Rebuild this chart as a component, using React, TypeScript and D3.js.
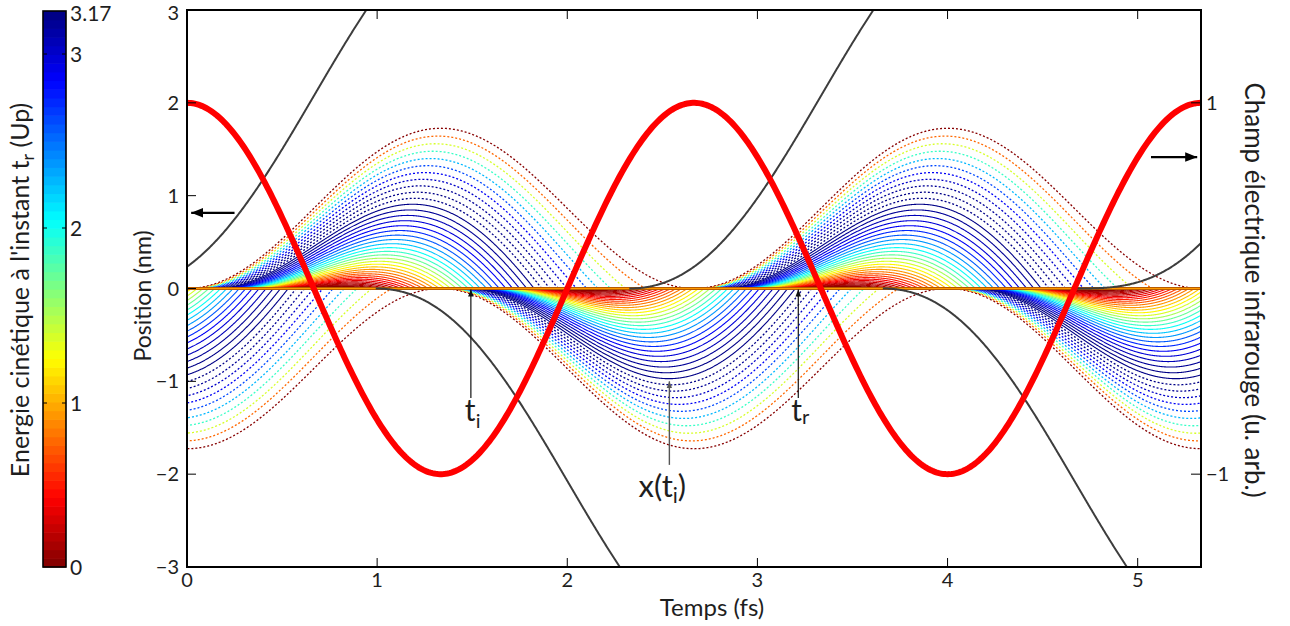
import React, { useMemo } from 'react';
import * as d3 from 'd3';

// ---------------- data ----------------
const timeDomainFs = [0, 5.333];
const positionDomainNm = [-3, 3];
const fieldDomain = [-1.5, 1.5];
const timeTicks = [0, 1, 2, 3, 4, 5];
const positionTicks = [-3, -2, -1, 0, 1, 2, 3];
const fieldTicks = [-1, 1];
const fieldTickLabels = ['−1', '1'];
const energyTicks = [0, 1, 2, 3, 3.17];
const energyTickLabels = ['0', '1', '2', '3', '3.17'];
const laserPeriodFs = 2.667;
const quiverAmplitudeNm = 0.863;
const energyMaxUp = 3.17;
const fieldAmplitude = 1;
// ionization phases (deg after the field maximum) of the drawn trajectories
const ionizationPhasesDeg = [
  0, 1.8, 3.6, 5.4, 7.2, 9, 10.8, 12.6, 14.4, 16.2, 18,
  19.8, 21.6, 23.4, 25.2, 27, 28.8, 30.6, 32.4, 34.2, 36, 37.8, 39.6, 41.4, 43.2,
  45, 46.8, 48.6, 50.4, 52.2, 54, 55.8, 57.6, 59.4, 61.2, 63, 64.8, 66.6, 68.4,
  70.2, 72, 73.8, 75.6, 77.4, 79.2, 81, 82.8, 84.6, 86.4, 88.2,
];
const halfCycleStartsDeg = [-180, 0, 180, 360, 540];
// number of dotted (long) trajectories in each half cycle
const dottedCountByHalfCycle = [10, 11, 10, 11, 10];
// ionization phases (deg) of the non-returning (grey) trajectories
const driftIonizationDeg = [-46, 134, 314, 494, 630];

// ---------------- helpers ----------------
const omega = (2 * Math.PI) / laserPeriodFs;

function jet(v: number) {
  const c = (q: number) => Math.max(0, Math.min(1, q));
  const r = c(1.5 - Math.abs(4 * v - 3));
  const g = c(1.5 - Math.abs(4 * v - 2));
  const b = c(1.5 - Math.abs(4 * v - 1));
  return d3.rgb(r * 255, g * 255, b * 255).formatHex();
}
const levelColor = (i: number) => jet(1 - (i + 0.5) / 64);
const energyColor = (e: number) =>
  levelColor(Math.max(0, Math.min(63, Math.floor((e / energyMaxUp) * 64))));

function returning(phiDeg: number) {
  const p0 = (phiDeg * Math.PI) / 180;
  const c0 = Math.cos(p0);
  const s0 = Math.sin(p0);
  const sgn = c0 >= 0 ? 1 : -1;
  const pos = (p: number) => quiverAmplitudeNm * (c0 - Math.cos(p) - s0 * (p - p0));
  const pts: [number, number][] = [[p0 / omega, 0]];
  const dp = 0.006;
  let prevP = p0;
  let prevX = 0;
  let pr = p0 + 2 * Math.PI;
  for (let p = p0 + dp; p < p0 + 2 * Math.PI; p += dp) {
    const xv = pos(p);
    if (p > p0 + 0.05 && sgn * xv <= 0) {
      pr = prevP + (dp * (sgn * prevX)) / (sgn * prevX - sgn * xv);
      break;
    }
    pts.push([p / omega, xv]);
    prevP = p;
    prevX = xv;
  }
  pts.push([pr / omega, 0]);
  const energy = 2 * (Math.sin(pr) - s0) ** 2;
  return { pts, energy };
}

function drifting(phiDeg: number) {
  const p0 = (phiDeg * Math.PI) / 180;
  const c0 = Math.cos(p0);
  const s0 = Math.sin(p0);
  const pts: [number, number][] = [];
  const pEnd = (timeDomainFs[1] + 0.1) * omega;
  for (let p = p0; p <= pEnd; p += 0.01) {
    const xv = quiverAmplitudeNm * (c0 - Math.cos(p) - s0 * (p - p0));
    pts.push([p / omega, xv]);
    if (Math.abs(xv) > 3.6) break;
  }
  return pts;
}

const FONT = 'Lato, "Open Sans", "DejaVu Sans", sans-serif';
const INK = '#1e1e1e';

export default function App() {
  const W = 1290;
  const H = 626;
  const M = { left: 187, right: 1201, top: 10, bottom: 567 };
  const cbar = { x0: 43, x1: 66 };

  const x = d3.scaleLinear().domain(timeDomainFs).range([M.left, M.right]);
  const y = d3.scaleLinear().domain(positionDomainNm).range([M.bottom, M.top]);
  const yF = d3.scaleLinear().domain(fieldDomain).range([M.bottom, M.top]);
  const yC = d3.scaleLinear().domain(energyTicks).range([567, 403, 228, 54, 11]);

  const line = d3
    .line<[number, number]>()
    .x((d) => x(d[0]))
    .y((d) => y(d[1]));
  const fieldLine = d3
    .line<[number, number]>()
    .x((d) => x(d[0]))
    .y((d) => yF(d[1]));

  const trajectories = useMemo(() => {
    const out: { d: string; color: string; dotted: boolean; key: string }[] = [];
    halfCycleStartsDeg.forEach((h, hi) => {
      ionizationPhasesDeg.forEach((phi, k) => {
        const { pts, energy } = returning(h + phi);
        out.push({
          d: line(pts) || '',
          color: energyColor(energy),
          dotted: k < dottedCountByHalfCycle[hi],
          key: `${h}-${k}`,
        });
      });
    });
    return out;
  }, []);

  const drifts = useMemo(() => driftIonizationDeg.map((p) => line(drifting(p)) || ''), []);

  const fieldPts = useMemo(() => {
    const pts: [number, number][] = [];
    for (let t = timeDomainFs[0]; t <= timeDomainFs[1] + 1e-9; t += 0.01) {
      pts.push([t, fieldAmplitude * Math.cos(omega * t)]);
    }
    pts.push([timeDomainFs[1], fieldAmplitude * Math.cos(omega * timeDomainFs[1])]);
    return pts;
  }, []);

  const bands = d3.range(64);
  const bandH = (567 - 11) / 64;

  return (
    <svg
      width={W}
      height={H}
      style={{ position: 'absolute', left: 0, top: 0, background: '#fff' }}
      fontFamily={FONT}
    >
      <defs>
        <clipPath id="plotclip">
          <rect x={M.left} y={M.top} width={M.right - M.left} height={M.bottom - M.top} />
        </clipPath>
        <marker id="headSmall" viewBox="0 0 10 10" refX="10" refY="5" markerWidth="7" markerHeight="7" orient="auto" markerUnits="userSpaceOnUse">
          <path d="M0,1 L10,5 L0,9 z" fill="#111" />
        </marker>
        <marker id="headGray" viewBox="0 0 10 10" refX="10" refY="5" markerWidth="7" markerHeight="7" orient="auto" markerUnits="userSpaceOnUse">
          <path d="M0,1 L10,5 L0,9 z" fill="#555" />
        </marker>
        <marker id="headBig" viewBox="0 0 10 10" refX="10" refY="5" markerWidth="12" markerHeight="12" orient="auto" markerUnits="userSpaceOnUse">
          <path d="M0,1 L10,5 L0,9 z" fill="#000" />
        </marker>
      </defs>

      <rect x={0} y={0} width={W} height={H} fill="#fff" />

      {/* ---- colorbar ---- */}
      {bands.map((i) => (
        <rect
          key={i}
          x={cbar.x0}
          y={567 - (i + 1) * bandH}
          width={cbar.x1 - cbar.x0}
          height={bandH + 0.6}
          fill={levelColor(i)}
        />
      ))}
      <rect x={cbar.x0} y={11} width={cbar.x1 - cbar.x0} height={556} fill="none" stroke="#000" strokeWidth={1.6} />
      {energyTicks.slice(1, 4).map((v) => (
        <g key={v} stroke="#000" strokeWidth={1}>
          <line x1={cbar.x0} x2={cbar.x0 + 4} y1={yC(v)} y2={yC(v)} />
          <line x1={cbar.x1 - 4} x2={cbar.x1} y1={yC(v)} y2={yC(v)} />
        </g>
      ))}
      {energyTicks.map((v, i) => (
        <text key={v} x={70} y={Math.max(yC(v) + 7.5, 21)} fontSize={21} fill={INK}>
          {energyTickLabels[i]}
        </text>
      ))}
      <text
        transform={`translate(29,290) rotate(-90)`}
        textAnchor="middle"
        fontSize={25}
        fill={INK}
      >
        Energie cinétique à l'instant t
        <tspan fontSize={18} dy={5}>r</tspan>
        <tspan dy={-5}> (Up)</tspan>
      </text>

      {/* ---- plot ---- */}
      <g clipPath="url(#plotclip)">
        {trajectories.map((t) => (
          <path
            key={t.key}
            d={t.d}
            fill="none"
            stroke={t.color}
            strokeWidth={t.dotted ? 1.3 : 1.1}
            strokeDasharray={t.dotted ? '2 2' : undefined}
          />
        ))}
        <line x1={M.left} x2={M.right} y1={y(0)} y2={y(0)} stroke="#6e1c00" strokeWidth={3.2} />
        <line x1={M.left} x2={M.right} y1={y(0)} y2={y(0)} stroke="#ff9a00" strokeWidth={1.8} />
        {drifts.map((d, i) => (
          <path key={i} d={d} fill="none" stroke="#3d3d3d" strokeWidth={2} />
        ))}
        <path d={fieldLine(fieldPts) || ''} fill="none" stroke="#ff0000" strokeWidth={6} />
      </g>

      {/* frame */}
      <rect x={M.left} y={M.top} width={M.right - M.left} height={M.bottom - M.top} fill="none" stroke="#000" strokeWidth={2} />

      {/* ticks */}
      {timeTicks.map((t) => (
        <g key={t} stroke="#000" strokeWidth={1}>
          <line x1={x(t)} x2={x(t)} y1={M.bottom} y2={M.bottom - 9} />
          <line x1={x(t)} x2={x(t)} y1={M.top} y2={M.top + 9} />
        </g>
      ))}
      {positionTicks.map((v) => (
        <line key={v} x1={M.left} x2={M.left + 9} y1={y(v)} y2={y(v)} stroke="#000" strokeWidth={1} />
      ))}
      {fieldTicks.map((v) => (
        <line key={v} x1={M.right - 10} x2={M.right} y1={yF(v)} y2={yF(v)} stroke="#000" strokeWidth={1} />
      ))}

      {/* tick labels */}
      {timeTicks.map((t) => (
        <text key={t} x={x(t)} y={587} textAnchor="middle" fontSize={20} fill={INK}>
          {t}
        </text>
      ))}
      {positionTicks.map((v) => (
        <text key={v} x={179} y={Math.max(y(v) + 7, 20)} textAnchor="end" fontSize={20} fill={INK}>
          {v < 0 ? `−${-v}` : v}
        </text>
      ))}
      {fieldTicks.map((v, i) => (
        <text key={v} x={1206} y={yF(v) + 7} textAnchor="start" fontSize={20} fill={INK}>
          {fieldTickLabels[i]}
        </text>
      ))}

      {/* axis titles */}
      <text x={712} y={616} textAnchor="middle" fontSize={24} fill={INK}>
        Temps (fs)
      </text>
      <text transform={`translate(151,296) rotate(-90)`} textAnchor="middle" fontSize={23} fill={INK}>
        Position (nm)
      </text>
      <text transform={`translate(1245,290) rotate(90)`} textAnchor="middle" fontSize={26} fill={INK}>
        Champ électrique infrarouge (u. arb.)
      </text>

      {/* annotations */}
      <line x1={x(1.493)} x2={x(1.493)} y1={y(-1.18)} y2={y(0) + 1} stroke="#111" strokeWidth={1.2} markerEnd="url(#headSmall)" />
      <text x={x(1.493) - 6} y={421} fontSize={30} fill={INK}>
        t<tspan fontSize={20} dy={7}>i</tspan>
      </text>
      <line x1={x(3.215)} x2={x(3.215)} y1={y(-1.18)} y2={y(0) + 1} stroke="#111" strokeWidth={1.2} markerEnd="url(#headSmall)" />
      <text x={x(3.215) - 7} y={421} fontSize={30} fill={INK}>
        t<tspan fontSize={20} dy={3}>r</tspan>
      </text>
      <line x1={x(2.537)} x2={x(2.537)} y1={y(-1.9)} y2={y(-1.0)} stroke="#555" strokeWidth={1.4} markerEnd="url(#headGray)" />
      <text x={x(2.5)} y={497} textAnchor="middle" fontSize={31} fill={INK}>
        x(t<tspan fontSize={21} dy={6}>i</tspan>
        <tspan dy={-6}>)</tspan>
      </text>

      <line x1={x(0.25)} x2={x(0.022)} y1={y(0.815)} y2={y(0.815)} stroke="#000" strokeWidth={2.2} markerEnd="url(#headBig)" />
      <line x1={x(5.07)} x2={x(5.313)} y1={yF(0.708)} y2={yF(0.708)} stroke="#000" strokeWidth={2.2} markerEnd="url(#headBig)" />
    </svg>
  );
}
